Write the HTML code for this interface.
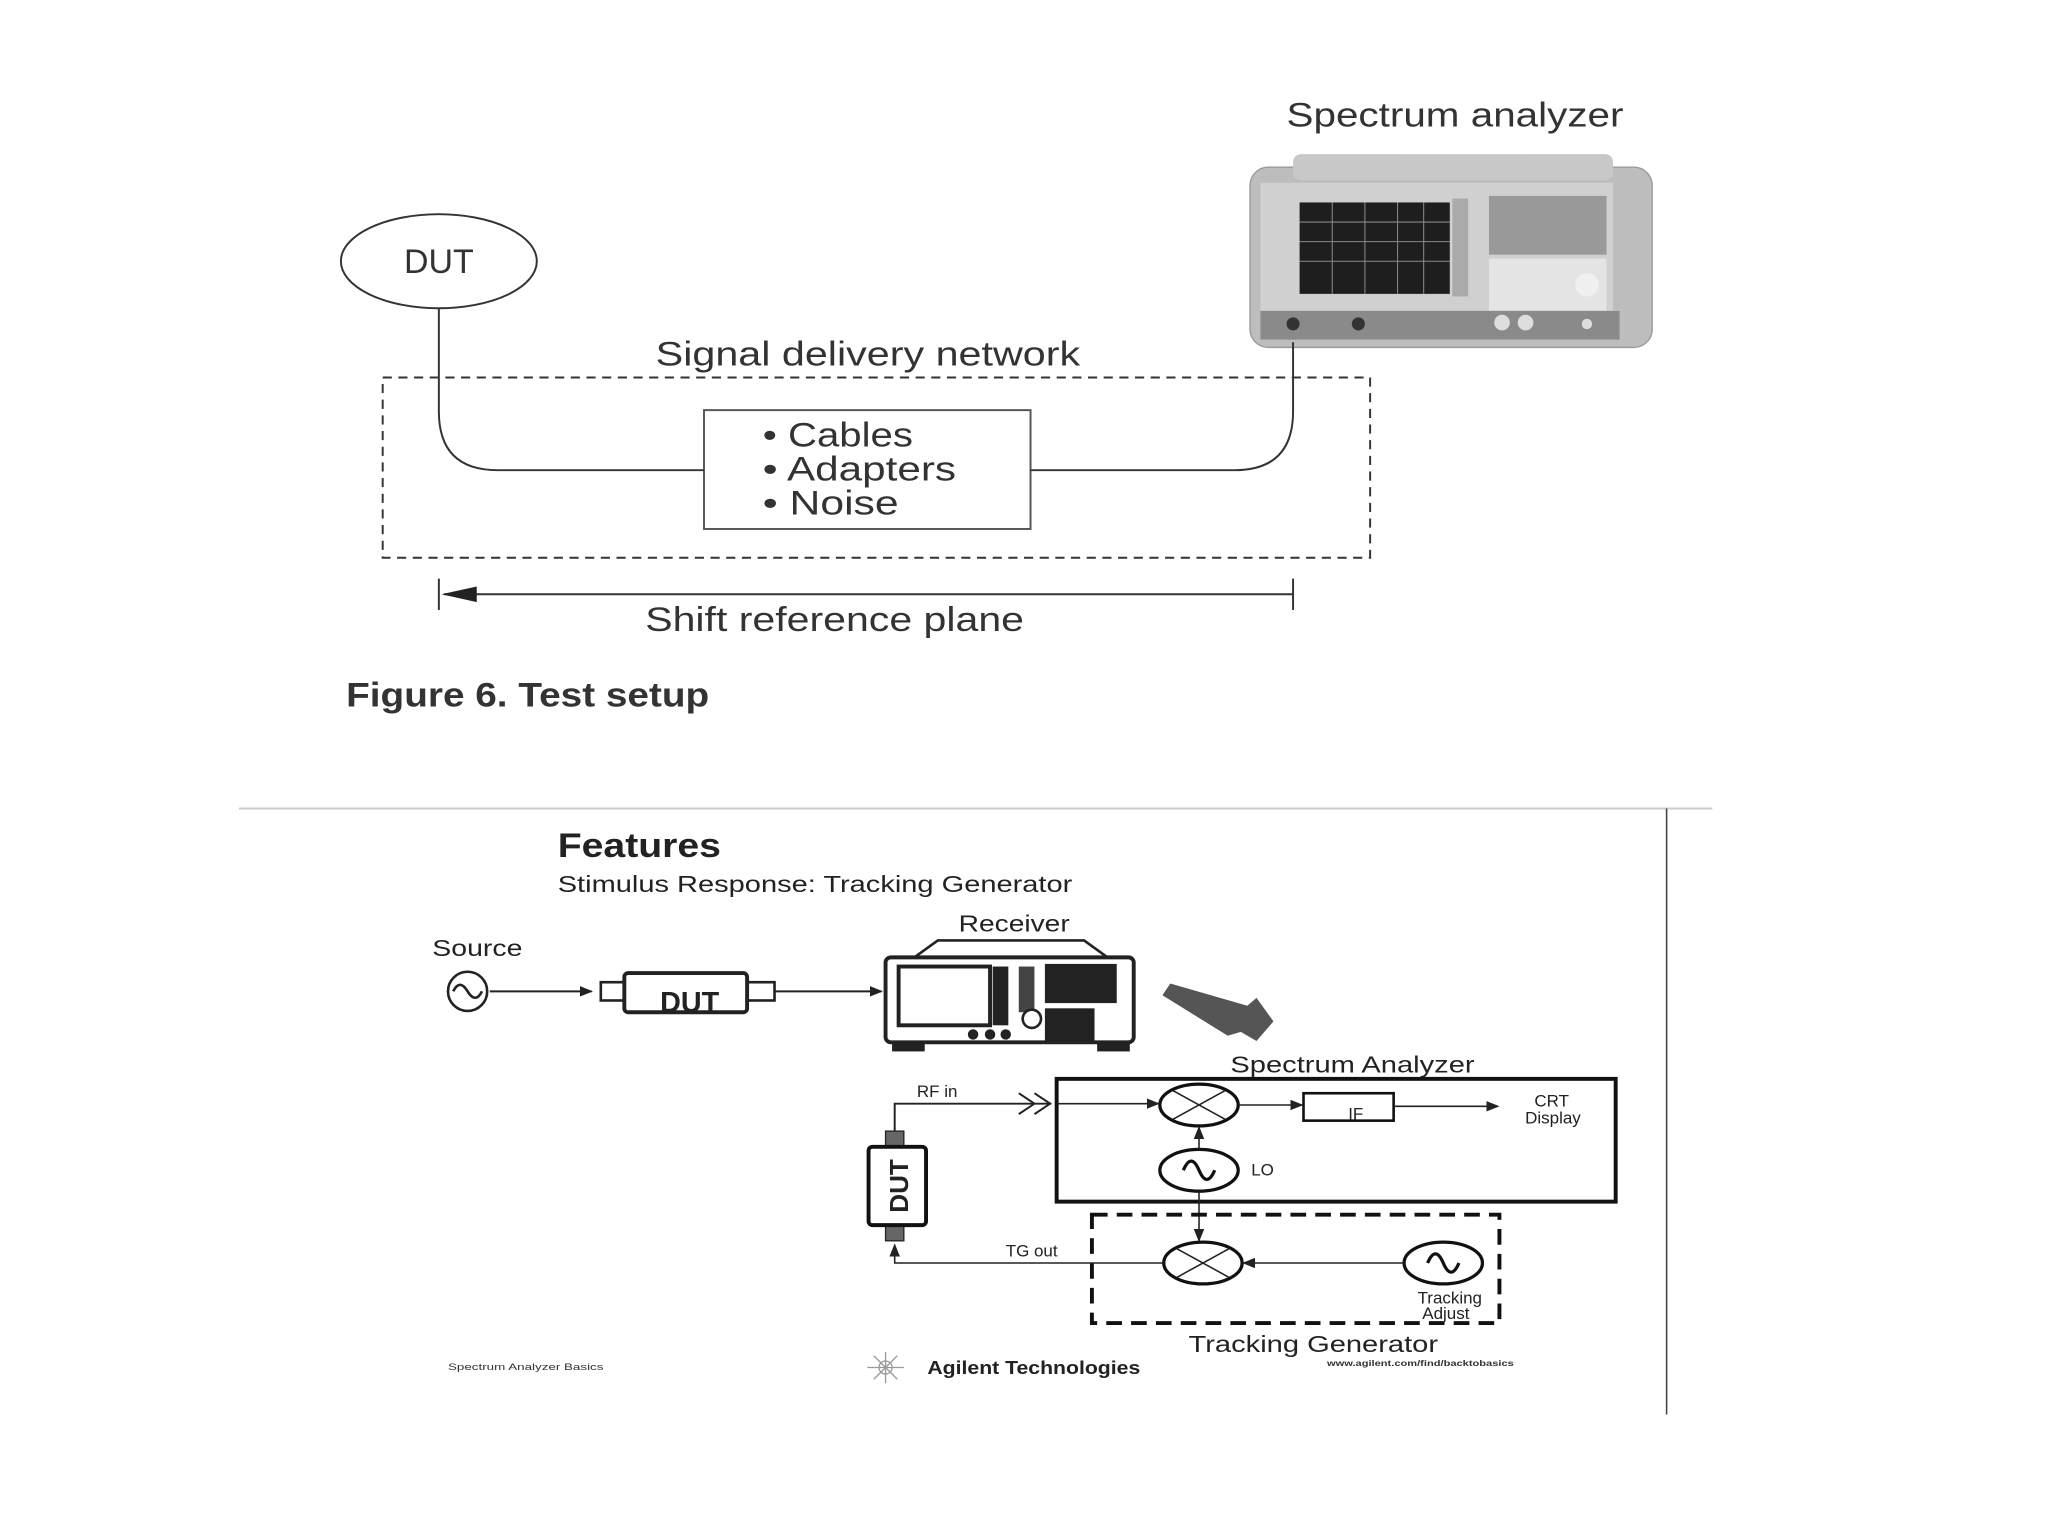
<!DOCTYPE html>
<html><head><meta charset="utf-8"><style>html,body{margin:0;padding:0;background:#fff}svg{display:block}</style></head>
<body>
<svg width="2048" height="1536" viewBox="0 0 1568 1176" preserveAspectRatio="none" xmlns="http://www.w3.org/2000/svg" font-family="'Liberation Sans', sans-serif">
<defs>
<marker id="ah" markerWidth="10" markerHeight="8" refX="9" refY="4" orient="auto" markerUnits="userSpaceOnUse"><path d="M0,0 L10,4 L0,8 Z" fill="#222"/></marker>
</defs>
<rect width="1600" height="1200" fill="#fff"/>
<text x="985" y="97" font-size="26" fill="#333" textLength="258" lengthAdjust="spacingAndGlyphs">Spectrum analyzer</text>
<g>
<rect x="957" y="128" width="308" height="138" rx="14" fill="#bdbdbd" stroke="#999"/>
<rect x="990" y="118" width="245" height="20" rx="6" fill="#c8c8c8"/>
<rect x="965" y="140" width="270" height="100" fill="#d0d0d0"/>
<rect x="995" y="155" width="115" height="70" fill="#1e1e1e"/>
<g stroke="#888" stroke-width="0.8"><line x1="995" y1="170" x2="1110" y2="170"/><line x1="995" y1="185" x2="1110" y2="185"/><line x1="995" y1="200" x2="1110" y2="200"/><line x1="1020" y1="155" x2="1020" y2="225"/><line x1="1045" y1="155" x2="1045" y2="225"/><line x1="1070" y1="155" x2="1070" y2="225"/><line x1="1090" y1="155" x2="1090" y2="225"/></g>
<rect x="1112" y="152" width="12" height="75" fill="#aaa"/>
<rect x="1140" y="150" width="90" height="45" fill="#999"/>
<rect x="1140" y="198" width="90" height="40" fill="#e4e4e4"/>
<circle cx="1215" cy="218" r="9" fill="#f0f0f0"/>
<rect x="965" y="238" width="275" height="22" fill="#8a8a8a"/>
<circle cx="990" cy="248" r="5" fill="#333"/><circle cx="1040" cy="248" r="5" fill="#333"/><circle cx="1150" cy="247" r="6" fill="#ddd"/><circle cx="1168" cy="247" r="6" fill="#ddd"/><circle cx="1215" cy="248" r="4" fill="#ddd"/>
</g>
<ellipse cx="336" cy="200" rx="75" ry="36" fill="#fff" stroke="#333" stroke-width="1.5"/>
<text x="336" y="209" font-size="26" text-anchor="middle" fill="#333">DUT</text>
<text x="502" y="280" font-size="26" fill="#333" textLength="325" lengthAdjust="spacingAndGlyphs">Signal delivery network</text>
<rect x="293" y="289" width="756" height="138" fill="none" stroke="#333" stroke-width="1.5" stroke-dasharray="7,5"/>
<rect x="539" y="314" width="250" height="91" fill="#fff" stroke="#555" stroke-width="1.5"/>
<g font-size="26" fill="#333"><text x="584" y="342" textLength="115" lengthAdjust="spacingAndGlyphs">• Cables</text><text x="584" y="368" textLength="148" lengthAdjust="spacingAndGlyphs">• Adapters</text><text x="584" y="394" textLength="104" lengthAdjust="spacingAndGlyphs">• Noise</text></g>
<path d="M336,236 V315 Q336,360 381,360 H539" fill="none" stroke="#333" stroke-width="1.5"/>
<path d="M789,360 H945 Q990,360 990,315 V262" fill="none" stroke="#333" stroke-width="1.5"/>
<line x1="990" y1="455" x2="340" y2="455" stroke="#333" stroke-width="1.5"/>
<path d="M338,455 L365,449 L365,461 Z" fill="#222"/>
<line x1="336" y1="443" x2="336" y2="467" stroke="#333" stroke-width="1.5"/>
<line x1="990" y1="443" x2="990" y2="467" stroke="#333" stroke-width="1.5"/>
<text x="494" y="483" font-size="26" fill="#333" textLength="290" lengthAdjust="spacingAndGlyphs">Shift reference plane</text>
<text x="265" y="541" font-size="26" font-weight="bold" fill="#333" textLength="278" lengthAdjust="spacingAndGlyphs">Figure 6. Test setup</text>
<line x1="183" y1="619" x2="1311" y2="619" stroke="#ccc" stroke-width="1.5"/>
<line x1="1276" y1="619" x2="1276" y2="1083" stroke="#444" stroke-width="1.2"/>
<text x="427" y="656" font-size="26" font-weight="bold" fill="#222" textLength="125" lengthAdjust="spacingAndGlyphs">Features</text>
<text x="427" y="683" font-size="18" fill="#222" textLength="394" lengthAdjust="spacingAndGlyphs">Stimulus Response: Tracking Generator</text>
<text x="331" y="732" font-size="18" fill="#222" textLength="69" lengthAdjust="spacingAndGlyphs">Source</text>
<circle cx="358" cy="759" r="15" fill="none" stroke="#222" stroke-width="2"/>
<path d="M347,759 Q352,749 358,759 T369,759" fill="none" stroke="#222" stroke-width="2"/>
<line x1="375" y1="759" x2="453" y2="759" stroke="#222" stroke-width="1.5" marker-end="url(#ah)"/>
<rect x="460" y="752" width="18" height="14" fill="#fff" stroke="#222" stroke-width="2"/>
<rect x="572" y="752" width="21" height="14" fill="#fff" stroke="#222" stroke-width="2"/>
<rect x="478" y="745" width="94" height="30" rx="3" fill="#fff" stroke="#222" stroke-width="3"/>
<text x="528" y="775" font-size="22" font-weight="bold" text-anchor="middle" fill="#222">DUT</text>
<line x1="593" y1="759" x2="675" y2="759" stroke="#222" stroke-width="1.5" marker-end="url(#ah)"/>
<text x="734" y="713" font-size="18" fill="#222" textLength="85" lengthAdjust="spacingAndGlyphs">Receiver</text>
<path d="M700,733 L718,720 H830 L848,733" fill="none" stroke="#222" stroke-width="2"/>
<rect x="678" y="733" width="190" height="65" rx="4" fill="#fff" stroke="#222" stroke-width="3"/>
<rect x="688" y="740" width="70" height="45" fill="#fff" stroke="#222" stroke-width="3"/>
<rect x="760" y="740" width="12" height="45" fill="#222"/>
<rect x="780" y="740" width="12" height="35" fill="#444"/>
<rect x="800" y="738" width="55" height="30" fill="#222"/>
<rect x="800" y="772" width="38" height="25" fill="#222"/>
<circle cx="790" cy="780" r="7" fill="#fff" stroke="#222" stroke-width="2"/>
<circle cx="745" cy="792" r="4" fill="#222"/><circle cx="758" cy="792" r="4" fill="#222"/><circle cx="770" cy="792" r="4" fill="#222"/>
<rect x="683" y="798" width="25" height="7" fill="#222"/><rect x="840" y="798" width="25" height="7" fill="#222"/>
<path d="M890,762 L896,753 L955,770 L962,764 L975,782 L962,797 L950,790 L940,793 Z" fill="#555"/>
<text x="942" y="821" font-size="18" fill="#222" textLength="187" lengthAdjust="spacingAndGlyphs">Spectrum Analyzer</text>
<rect x="809" y="826" width="428" height="94" fill="none" stroke="#111" stroke-width="3"/>
<text x="702" y="840" font-size="13" fill="#222">RF in</text>
<path d="M685,866 V845 H805" fill="none" stroke="#222" stroke-width="1.5"/>
<path d="M780,837 L792,845 L780,853 M792,837 L804,845 L792,853" fill="none" stroke="#222" stroke-width="1.5"/>
<line x1="809" y1="845" x2="887" y2="845" stroke="#222" stroke-width="1.2" marker-end="url(#ah)"/>
<ellipse cx="918" cy="846" rx="30" ry="16" fill="#fff" stroke="#111" stroke-width="2.5"/>
<path d="M898,835 L938,857 M938,835 L898,857" stroke="#222" stroke-width="1.2"/>
<line x1="948" y1="846" x2="997" y2="846" stroke="#222" stroke-width="1.2" marker-end="url(#ah)"/>
<rect x="998" y="837" width="69" height="21" fill="#fff" stroke="#111" stroke-width="2"/>
<text x="1038" y="857" font-size="13" text-anchor="middle" fill="#222">IF</text>
<line x1="1067" y1="847" x2="1147" y2="847" stroke="#222" stroke-width="1.2" marker-end="url(#ah)"/>
<text x="1188" y="847" font-size="13" text-anchor="middle" fill="#222">CRT</text>
<text x="1189" y="860" font-size="13" text-anchor="middle" fill="#222">Display</text>
<ellipse cx="918" cy="896" rx="30" ry="16" fill="#fff" stroke="#111" stroke-width="2.5"/>
<path d="M906,896 Q912,882 918,896 T930,896" fill="none" stroke="#111" stroke-width="2.5"/>
<text x="958" y="900" font-size="13" fill="#222">LO</text>
<line x1="918" y1="880" x2="918" y2="863" stroke="#222" stroke-width="1.2" marker-end="url(#ah)"/>
<line x1="918" y1="912" x2="918" y2="950" stroke="#222" stroke-width="1.2" marker-end="url(#ah)"/>
<rect x="836" y="930" width="312" height="83" fill="none" stroke="#111" stroke-width="3" stroke-dasharray="12,7"/>
<ellipse cx="921" cy="967" rx="30" ry="16" fill="#fff" stroke="#111" stroke-width="2.5"/>
<path d="M901,956 L941,978 M941,956 L901,978" stroke="#222" stroke-width="1.2"/>
<ellipse cx="1105" cy="967" rx="30" ry="16" fill="#fff" stroke="#111" stroke-width="2.5"/>
<path d="M1093,967 Q1099,953 1105,967 T1117,967" fill="none" stroke="#111" stroke-width="2.5"/>
<line x1="1075" y1="967" x2="952" y2="967" stroke="#222" stroke-width="1.2" marker-end="url(#ah)"/>
<path d="M891,967 H685 V953" fill="none" stroke="#222" stroke-width="1.2" marker-end="url(#ah)"/>
<text x="770" y="962" font-size="13" fill="#222">TG out</text>
<text x="1110" y="998" font-size="13" text-anchor="middle" fill="#222">Tracking</text>
<text x="1107" y="1010" font-size="13" text-anchor="middle" fill="#222">Adjust</text>
<rect x="678" y="866" width="14" height="12" fill="#666" stroke="#222"/>
<rect x="678" y="938" width="14" height="12" fill="#666" stroke="#222"/>
<rect x="665" y="878" width="44" height="60" rx="3" fill="#fff" stroke="#111" stroke-width="3"/>
<text transform="translate(695,908) rotate(-90)" font-size="20" font-weight="bold" text-anchor="middle" fill="#222">DUT</text>
<text x="910" y="1035" font-size="18" fill="#222" textLength="191" lengthAdjust="spacingAndGlyphs">Tracking Generator</text>
<text x="343" y="1049" font-size="7" fill="#333" textLength="119" lengthAdjust="spacingAndGlyphs">Spectrum Analyzer Basics</text>
<g stroke="#999" stroke-width="1"><circle cx="678" cy="1047" r="5" fill="none"/><line x1="664" y1="1047" x2="692" y2="1047"/><line x1="678" y1="1035" x2="678" y2="1059"/><line x1="669" y1="1038" x2="687" y2="1056"/><line x1="687" y1="1038" x2="669" y2="1056"/></g>
<text x="710" y="1052" font-size="14" font-weight="bold" fill="#222" textLength="163" lengthAdjust="spacingAndGlyphs">Agilent Technologies</text>
<text x="1016" y="1046" font-size="6" font-weight="bold" fill="#333" textLength="143" lengthAdjust="spacingAndGlyphs">www.agilent.com/find/backtobasics</text>
</svg>
</body></html>
